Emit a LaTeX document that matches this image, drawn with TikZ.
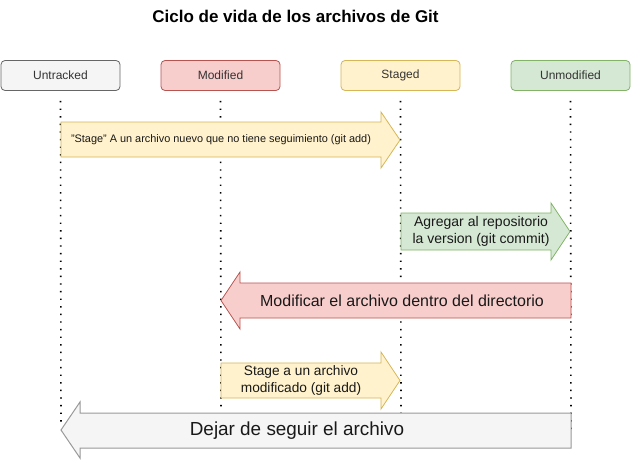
\documentclass[tikz,border=0pt]{standalone}
\usepackage{fontspec}
\setmainfont{Liberation Sans}
\begin{document}
\begin{tikzpicture}[x=1pt,y=-1pt,
  statebox/.style={draw, rounded corners=4pt, minimum width=119pt, minimum height=30pt, inner sep=0pt, font=\fontsize{12}{14}\selectfont, line width=0.8pt},
  lifeline/.style={line width=1.6pt, dash pattern=on 1.4pt off 6.2pt, black},
  lbl/.style={inner sep=0pt, align=center, text=black!90}
]
\definecolor{grayF}{HTML}{F5F5F5}\definecolor{grayD}{HTML}{666666}
\definecolor{redF}{HTML}{F8CECC}\definecolor{redD}{HTML}{B85450}
\definecolor{yelF}{HTML}{FFF2CC}\definecolor{yelD}{HTML}{D6B656}
\definecolor{grnF}{HTML}{D5E8D4}\definecolor{grnD}{HTML}{82B366}
\definecolor{txt}{HTML}{333333}
\useasboundingbox[fill=white] (0,0) rectangle (631,459);

\node[font=\bfseries\fontsize{17}{19}\selectfont] (title) at (295.5,16) {Ciclo de vida de los archivos de Git};

\node[statebox, fill=grayF, draw=grayD, text=txt] (untracked) at (60.5,75.5) {Untracked};
\node[statebox, fill=redF, draw=redD, text=txt] (modified) at (220.5,75.5) {Modified};
\node[statebox, fill=yelF, draw=yelD, text=txt] (staged) at (400.5,75.5) {Staged};
\node[statebox, fill=grnF, draw=grnD, text=txt] (unmodified) at (570.5,75.5) {Unmodified};

\coordinate (uEnd) at (61,425);
\coordinate (mEnd) at (221,412);
\coordinate (sEnd) at (401,413);
\coordinate (nEnd) at (571,432);
\draw[lifeline] (untracked.south) ++(0,10) -- (uEnd);
\draw[lifeline] (modified.south) ++(0,10) -- (mEnd);
\draw[lifeline] (staged.south) ++(0,10) -- (sEnd);
\draw[lifeline] (unmodified.south) ++(0,10) -- (nEnd);

% arrow 1: Untracked -> Staged
\filldraw[fill=yelF, draw=yelD, line width=0.8pt] (61,122) -- (381,122) -- (381,112) -- (400,140) -- (381,168) -- (381,157) -- (61,157) -- cycle;
\node[lbl, font=\fontsize{10.9}{12}\selectfont] (a1) at (221,139.5) {"Stage" A un archivo nuevo que no tiene seguimiento (git add)};

% arrow 2: Staged -> Unmodified
\filldraw[fill=grnF, draw=grnD, line width=0.8pt] (401,213) -- (551,213) -- (551,203) -- (570,231.5) -- (551,260) -- (551,250) -- (401,250) -- cycle;
\node[lbl, font=\fontsize{14}{17}\selectfont] (a2) at (481,231.5) {Agregar al repositorio\\la version (git commit)};

% arrow 3: Unmodified -> Modified
\filldraw[fill=redF, draw=redD, line width=0.8pt] (571,283) -- (240,283) -- (240,272) -- (221,300.5) -- (240,329) -- (240,318) -- (571,318) -- cycle;
\node[lbl, font=\fontsize{16}{18}\selectfont] (a3) at (402,300.5) {Modificar el archivo dentro del directorio};

% arrow 4: Modified -> Staged
\filldraw[fill=yelF, draw=yelD, line width=0.8pt] (221,363) -- (381,363) -- (381,352) -- (400,380.5) -- (381,409) -- (381,398) -- (221,398) -- cycle;
\node[lbl, font=\fontsize{13.7}{17}\selectfont] (a4) at (301,380.5) {Stage a un archivo\\modificado (git add)};

% arrow 5: Unmodified -> Untracked
\filldraw[fill=grayF, draw=black!40, line width=1pt] (571,413) -- (80,413) -- (80,402) -- (61,430) -- (80,458) -- (80,448) -- (571,448) -- cycle;
\node[lbl, font=\fontsize{18.9}{21}\selectfont] (a5) at (297,430.5) {Dejar de seguir el archivo};
\end{tikzpicture}
\end{document}
